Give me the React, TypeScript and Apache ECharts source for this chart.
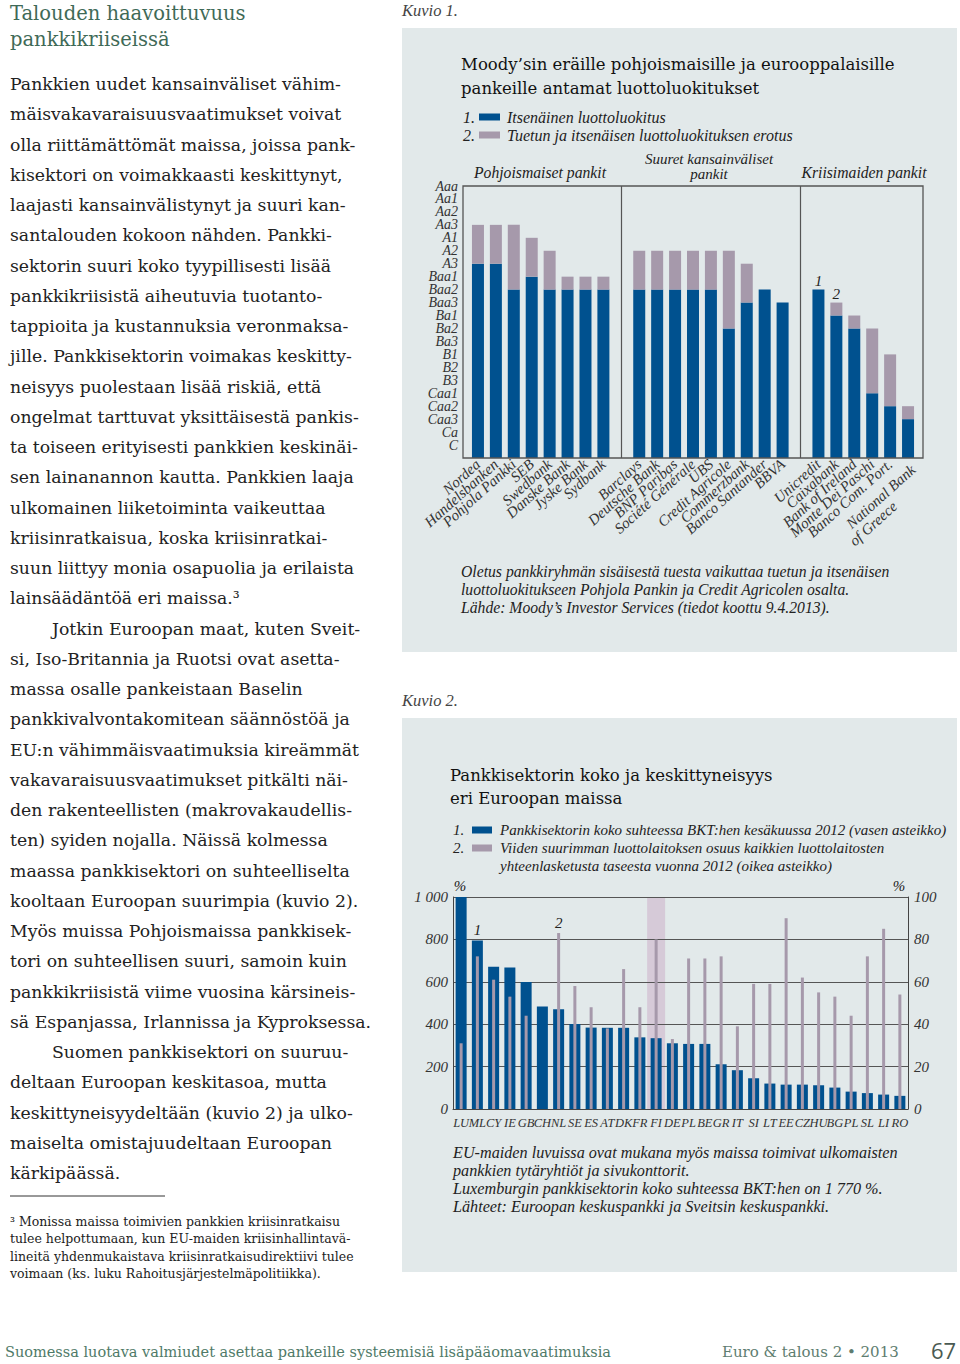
import React, { useEffect, useRef } from 'react';
import * as echarts from 'echarts';

// ---------- Chart 1 data (Moody's ratings) ----------
const ratingScale = ['C', 'Ca', 'Caa3', 'Caa2', 'Caa1', 'B3', 'B2', 'B1', 'Ba3', 'Ba2', 'Ba1', 'Baa3', 'Baa2', 'Baa1', 'A3', 'A2', 'A1', 'Aa3', 'Aa2', 'Aa1', 'Aaa'];

const banks = [
  'Nordea', 'Handelsbanken', 'Pohjola Pankki', 'SEB', 'Swedbank', 'Danske Bank', 'Jyske Bank', 'Sydbank',
  '',
  'Barclays', 'Deutsche Bank', 'BNP Paribas', 'Société Générale', 'UBS', 'Credit Agricole', 'Commerzbank', 'Banco Santander', 'BBVA',
  '',
  'Unicredit', 'Caixabank', 'Bank of Ireland', 'Monte Dei Paschi', 'Banco Com. Port.', 'National Bank\nof Greece',
];

const standaloneRating = [
  'A3', 'A3', 'Baa2', 'Baa1', 'Baa2', 'Baa2', 'Baa2', 'Baa2',
  null,
  'Baa2', 'Baa2', 'Baa2', 'Baa2', 'Baa2', 'Ba2', 'Baa3', 'Baa2', 'Baa3',
  null,
  'Baa2', 'Ba1', 'Ba2', 'Caa1', 'Caa2', 'Caa3',
];

const supportedRating = [
  'Aa3', 'Aa3', 'Aa3', 'A1', 'A2', 'Baa1', 'Baa1', 'Baa1',
  null,
  'A2', 'A2', 'A2', 'A2', 'A2', 'A2', 'A3', 'Baa2', 'Baa3',
  null,
  'Baa2', 'Baa3', 'Ba1', 'Ba2', 'B1', 'Caa2',
];

const bankMarkers: Record<string, string> = { Unicredit: '1', Caixabank: '2' };

const groupTitles = ['Pohjoismaiset pankit', ['Suuret kansainväliset', 'pankit'], 'Kriisimaiden pankit'];

// ---------- Chart 2 data (banking sector size & concentration) ----------
const countries = ['LU', 'ML', 'CY', 'IE', 'GB', 'CH', 'NL', 'SE', 'ES', 'AT', 'DK', 'FR', 'FI', 'DE', 'PL', 'BE', 'GR', 'IT', 'SI', 'LT', 'EE', 'CZ', 'HU', 'BG', 'PL', 'SL', 'LI', 'RO'];
const sectorSizePct = [1770, 795, 671, 667, 599, 484, 470, 401, 384, 383, 383, 338, 334, 310, 307, 307, 211, 183, 145, 120, 115, 115, 112, 101, 82, 75, 68, 62];
const top5SharePct = [31, 72, 61, 53, 44, null, 83, 58, 48, 38, 66, 48, 80, 33, 71, 71, 72, 39, 59, 59, 90, 62, 55, 53, 44, 72, 85, 54];
const highlightCountry = 'FI';
const sizeMarkers: Record<string, string> = { ML: '1' };
const shareMarkers: Record<string, string> = { NL: '2' };

// ---------- Page text ----------
const headerLines = ['Talouden haavoittuvuus', 'pankkikriiseissä'];
const bodyLines = [
  'Pankkien uudet kansainväliset vähim-',
  'mäisvakavaraisuusvaatimukset voivat',
  'olla riittämättömät maissa, joissa pank-',
  'kisektori on voimakkaasti keskittynyt,',
  'laajasti kansainvälistynyt ja suuri kan-',
  'santalouden kokoon nähden. Pankki-',
  'sektorin suuri koko tyypillisesti lisää',
  'pankkikriisistä aiheutuvia tuotanto-',
  'tappioita ja kustannuksia veronmaksa-',
  'jille. Pankkisektorin voimakas keskitty-',
  'neisyys puolestaan lisää riskiä, että',
  'ongelmat tarttuvat yksittäisestä pankis-',
  'ta toiseen erityisesti pankkien keskinäi-',
  'sen lainanannon kautta. Pankkien laaja',
  'ulkomainen liiketoiminta vaikeuttaa',
  'kriisinratkaisua, koska kriisinratkai-',
  'suun liittyy monia osapuolia ja erilaista',
  'lainsäädäntöä eri maissa.³',
  'Jotkin Euroopan maat, kuten Sveit-',
  'si, Iso-Britannia ja Ruotsi ovat asetta-',
  'massa osalle pankeistaan Baselin',
  'pankkivalvontakomitean säännöstöä ja',
  'EU:n vähimmäisvaatimuksia kireämmät',
  'vakavaraisuusvaatimukset pitkälti näi-',
  'den rakenteellisten (makrovakaudellis-',
  'ten) syiden nojalla. Näissä kolmessa',
  'maassa pankkisektori on suhteelliselta',
  'kooltaan Euroopan suurimpia (kuvio 2).',
  'Myös muissa Pohjoismaissa pankkisek-',
  'tori on suhteellisen suuri, samoin kuin',
  'pankkikriisistä viime vuosina kärsineis-',
  'sä Espanjassa, Irlannissa ja Kyproksessa.',
  'Suomen pankkisektori on suuruu-',
  'deltaan Euroopan keskitasoa, mutta',
  'keskittyneisyydeltään (kuvio 2) ja ulko-',
  'maiselta omistajuudeltaan Euroopan',
  'kärkipäässä.',
];
const indentedLines = [18, 32];
const footnoteLines = [
  '³ Monissa maissa toimivien pankkien kriisinratkaisu',
  'tulee helpottumaan, kun EU-maiden kriisinhallintavä-',
  'lineitä yhdenmukaistava kriisinratkaisudirektiivi tulee',
  'voimaan (ks. luku Rahoitusjärjestelmäpolitiikka).',
];
const chart1Title = ['Moody’sin eräille pohjoismaisille ja eurooppalaisille', 'pankeille antamat luottoluokitukset'];
const chart1Legend = ['Itsenäinen luottoluokitus', 'Tuetun ja itsenäisen luottoluokituksen erotus'];
const chart1Notes = [
  'Oletus pankkiryhmän sisäisestä tuesta vaikuttaa tuetun ja itsenäisen',
  'luottoluokitukseen Pohjola Pankin ja Credit Agricolen osalta.',
  'Lähde: Moody’s Investor Services (tiedot koottu 9.4.2013).',
];
const chart2Title = ['Pankkisektorin koko ja keskittyneisyys', 'eri Euroopan maissa'];
const chart2Legend = [
  ['Pankkisektorin koko suhteessa BKT:hen kesäkuussa 2012 (vasen asteikko)'],
  ['Viiden suurimman luottolaitoksen osuus kaikkien luottolaitosten', 'yhteenlasketusta taseesta vuonna 2012 (oikea asteikko)'],
];
const chart2Notes = [
  'EU-maiden luvuissa ovat mukana myös maissa toimivat ulkomaisten',
  'pankkien tytäryhtiöt ja sivukonttorit.',
  'Luxemburgin pankkisektorin koko suhteessa BKT:hen on 1 770 %.',
  'Lähteet: Euroopan keskuspankki ja Sveitsin keskuspankki.',
];
const footerLeft = 'Suomessa luotava valmiudet asettaa pankeille systeemisiä lisäpääomavaatimuksia';
const footerRight = 'Euro & talous 2 • 2013';
const pageNumber = '67';

// ---------- Styles ----------
const BLUE = '#00518f';
const GRAY = '#a699ab';
const PANEL = '#e2e9ea';
const INK = '#222';
const GREEN = '#3f6a57';
const SERIF = '"DejaVu Serif"';
const ital = (px: number) => `italic ${px}px "Liberation Serif"`;

function txt(x: number, y: number, text: string, font: string, fill = INK, align = 'left', extra: any = {}) {
  return {
    type: 'text',
    x,
    y,
    silent: true,
    z: 5,
    style: { text, font, fill, align, verticalAlign: 'middle', textAlign: align, textVerticalAlign: 'middle', ...extra },
  };
}

function rect(x: number, y: number, w: number, h: number, fill: string, z = -10) {
  return { type: 'rect', silent: true, z, shape: { x, y, width: w, height: h }, style: { fill } };
}

export default function App() {
  const ref = useRef<HTMLDivElement>(null);

  useEffect(() => {
    if (!ref.current) return;
    const chart = echarts.init(ref.current, undefined, { renderer: 'svg' });

    const rank = (r: string | null) => (r ? ratingScale.indexOf(r) + 1 : null);
    const topRank = ratingScale.length;
    const labelFont = { fontStyle: 'italic', fontFamily: 'Liberation Serif', fontSize: 15, color: INK };

    const blue1 = standaloneRating.map((r) => (r ? rank(r) : '-'));
    const gray1 = supportedRating.map((r, i) => {
      if (!r) return '-';
      const v = (rank(r) as number) - (rank(standaloneRating[i]) as number);
      const m = bankMarkers[banks[i]];
      return m
        ? { value: v, label: { show: true, position: 'top', distance: 1, formatter: m, ...labelFont } }
        : v;
    });
    const gapIdx = banks.map((b, i) => (b === '' ? i : -1)).filter((i) => i >= 0);
    const bankCategories = banks.map((b) => (b.includes('\n') ? { value: b, textStyle: { verticalAlign: 'top' } } : b));

    const blue2 = sectorSizePct.map((v, i) => {
      const m = sizeMarkers[countries[i]];
      return m ? { value: v, label: { show: true, position: 'top', distance: 3, formatter: m, ...labelFont } } : v;
    });
    const gray2 = top5SharePct.map((v, i) => {
      if (v == null) return '-';
      const m = shareMarkers[countries[i]];
      return m ? { value: v, label: { show: true, position: 'top', distance: 3, formatter: m, ...labelFont } } : v;
    });
    const sizeMax = 1000;
    const band = countries.map((c, i) => (i === countries.indexOf(highlightCountry) ? sizeMax : '-'));

    const graphics: any[] = [];
    // panels
    graphics.push(rect(402, 28, 555, 624, PANEL));
    graphics.push(rect(402, 718, 555, 554, PANEL));
    // header
    headerLines.forEach((t, i) => graphics.push(txt(10, 13 + i * 26, t, `19.5px ${SERIF}`, GREEN)));
    // body
    bodyLines.forEach((t, i) =>
      graphics.push(txt(indentedLines.includes(i) ? 52 : 10, 84 + i * 30.25, t, `17.3px ${SERIF}`, INK)),
    );
    // footnote rule + text
    graphics.push({ type: 'line', silent: true, shape: { x1: 10, y1: 1196, x2: 165, y2: 1196 }, style: { stroke: '#333', lineWidth: 1 } });
    footnoteLines.forEach((t, i) => graphics.push(txt(10, 1221 + i * 17.6, t, `12.5px ${SERIF}`, INK)));
    // footer
    graphics.push(txt(5, 1352, footerLeft, `14.5px ${SERIF}`, '#4f7a68'));
    graphics.push(txt(722, 1352, footerRight, `15px ${SERIF}`, '#5e7d70'));
    graphics.push(txt(931, 1350, pageNumber, '22px "Open Sans"', '#4a5a52'));
    // Kuvio labels
    graphics.push(txt(402, 10, 'Kuvio 1.', ital(16.5), '#444'));
    graphics.push(txt(402, 700, 'Kuvio 2.', ital(16.5), '#444'));
    // chart 1 title / legend / notes
    chart1Title.forEach((t, i) => graphics.push(txt(461, 64 + i * 24, t, `16.5px ${SERIF}`, '#111')));
    chart1Legend.forEach((t, i) => {
      const y = 117 + i * 18;
      graphics.push(txt(463, y, `${i + 1}.`, ital(16), INK));
      graphics.push(rect(479, y - 3.5, 21, 7, i === 0 ? BLUE : GRAY, 5));
      graphics.push(txt(507, y, t, ital(16), INK));
    });
    graphics.push(txt(540, 172, groupTitles[0] as string, ital(15.7), INK, 'center'));
    (groupTitles[1] as string[]).forEach((t, i) => graphics.push(txt(709, 158.5 + i * 15, t, ital(15), INK, 'center')));
    graphics.push(txt(864, 172, groupTitles[2] as string, ital(15.7), INK, 'center'));
    // chart 1 frame
    graphics.push({ type: 'rect', silent: true, z: 10, shape: { x: 463, y: 186, width: 460, height: 272 }, style: { fill: 'none', stroke: '#555', lineWidth: 1.3 } });
    chart1Notes.forEach((t, i) => graphics.push(txt(461, 571 + i * 18, t, ital(15.7), INK)));
    // chart 2 title / legend / notes
    chart2Title.forEach((t, i) => graphics.push(txt(450, 775 + i * 23, t, `16.5px ${SERIF}`, '#111')));
    let ly = 830;
    chart2Legend.forEach((lines, i) => {
      graphics.push(txt(453, ly, `${i + 1}.`, ital(15), INK));
      graphics.push(rect(472, ly - 3.5, 20, 7, i === 0 ? BLUE : GRAY, 5));
      lines.forEach((t, j) => graphics.push(txt(500, ly + j * 18, t, ital(15), INK)));
      ly += 18 * lines.length;
    });
    graphics.push(txt(460, 886, '%', ital(15), INK, 'center'));
    graphics.push(txt(899, 886, '%', ital(15), INK, 'center'));
    chart2Notes.forEach((t, i) => graphics.push(txt(453, 1153 + i * 18, t, ital(16.2), INK)));

    const axisLbl = { fontStyle: 'italic', fontFamily: 'Liberation Serif', color: '#333' };
    const step1 = 272 / topRank;

    chart.setOption({
      animation: false,
      backgroundColor: '#ffffff',
      graphic: { elements: graphics },
      grid: [
        // one extra (blank) step above Aaa so that Aaa is not the axis' max label
        { left: 469, top: 186 - step1, width: 448, height: 272 + step1 },
        { left: 453, top: 897, width: 455, height: 212 },
      ],
      xAxis: [
        {
          type: 'category', gridIndex: 0, data: bankCategories,
          axisLine: { show: false }, axisTick: { show: false },
          axisLabel: {
            ...axisLbl, fontSize: 15, rotate: 42, interval: 0, margin: 4, lineHeight: 15,
            formatter: (v: string) => {
              if (!v.includes('\n')) return v;
              const [a, b] = v.split('\n');
              return `{a|${a}}\n{b|${b}}`;
            },
            rich: {
              a: { ...axisLbl, fontSize: 15, lineHeight: 15 },
              b: { ...axisLbl, fontSize: 15, lineHeight: 15, padding: [0, 38, 0, 0] },
            },
          },
        },
        {
          type: 'category', gridIndex: 1, data: countries,
          axisLine: { show: true, lineStyle: { color: '#444', width: 1 } }, axisTick: { show: false },
          axisLabel: { ...axisLbl, fontSize: 12.5, interval: 0, margin: 7 },
        },
        { type: 'category', gridIndex: 1, data: countries, show: false },
        { type: 'category', gridIndex: 1, data: countries, show: false },
      ],
      yAxis: [
        {
          type: 'value', gridIndex: 0, min: 0, max: topRank + 1, interval: 1,
          axisLine: { show: false }, axisTick: { show: false }, splitLine: { show: false },
          axisLabel: {
            ...axisLbl, fontSize: 14, margin: 11, lineHeight: 12, showMaxLabel: false, showMinLabel: false,
            formatter: (v: number) => (v >= 1 && v <= topRank ? ratingScale[v - 1] : ''),
          },
        },
        {
          type: 'value', gridIndex: 1, min: 0, max: sizeMax, interval: 200,
          axisLine: { show: true, lineStyle: { color: '#444', width: 1 } }, axisTick: { show: false },
          splitLine: { show: true, lineStyle: { color: '#555', width: 1 } },
          axisLabel: {
            ...axisLbl, fontSize: 15, margin: 5,
            formatter: (v: number) => (v >= 1000 ? `${Math.floor(v / 1000)} ${String(v % 1000).padStart(3, '0')}` : String(v)),
          },
        },
        {
          type: 'value', gridIndex: 1, min: 0, max: 100, interval: 20, position: 'right',
          axisLine: { show: true, lineStyle: { color: '#444', width: 1 } }, axisTick: { show: false },
          splitLine: { show: false },
          axisLabel: { ...axisLbl, fontSize: 15, margin: 6 },
        },
      ],
      series: [
        {
          type: 'bar', name: 'Itsenäinen luottoluokitus', xAxisIndex: 0, yAxisIndex: 0, stack: 'r',
          barWidth: 12, itemStyle: { color: BLUE }, data: blue1,
          markLine: {
            silent: true, symbol: ['none', 'none'], label: { show: false },
            lineStyle: { color: '#555', width: 1.2, type: 'solid' },
            data: gapIdx.map((i) => [{ xAxis: i, yAxis: 0 }, { xAxis: i, yAxis: topRank }]),
          },
        },
        {
          type: 'bar', name: 'Tuetun ja itsenäisen luottoluokituksen erotus', xAxisIndex: 0, yAxisIndex: 0, stack: 'r',
          barWidth: 12, itemStyle: { color: GRAY }, data: gray1,
        },
        {
          type: 'bar', name: 'highlight', xAxisIndex: 3, yAxisIndex: 1, barWidth: 18, z: -1,
          itemStyle: { color: '#d6cad8' }, data: band, silent: true,
        },
        {
          type: 'bar', name: 'Pankkisektorin koko', xAxisIndex: 1, yAxisIndex: 1,
          barWidth: 11, itemStyle: { color: BLUE }, data: blue2, clip: true,
        },
        {
          type: 'bar', name: 'Viiden suurimman osuus', xAxisIndex: 2, yAxisIndex: 2,
          barWidth: 3, itemStyle: { color: GRAY }, data: gray2,
        },
      ],
    });

    return () => chart.dispose();
  }, []);

  return <div ref={ref} style={{ position: 'absolute', left: 0, top: 0, width: 960, height: 1364 }} />;
}
